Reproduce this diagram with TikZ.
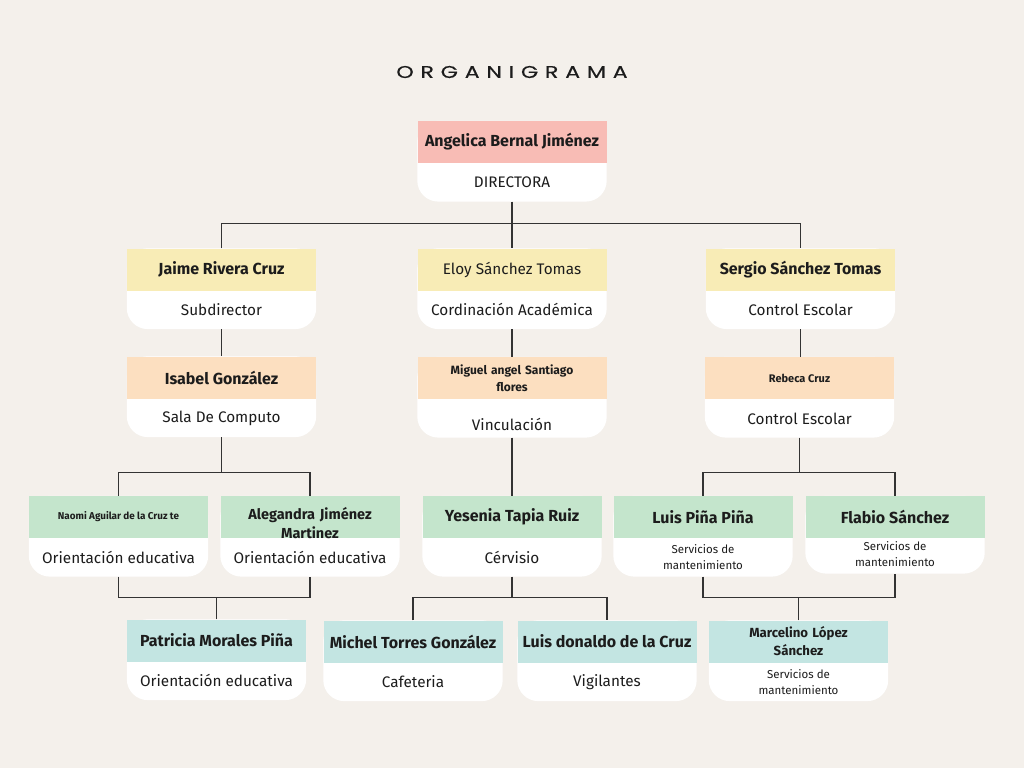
\documentclass[tikz,border=0pt]{standalone}
\usepackage{fontspec}
\setmainfont{Fira Sans}
\newfontfamily\titlefont[LetterSpace=40, FakeStretch=1.3, FakeBold=0.4]{Poppins}
\usetikzlibrary{positioning,backgrounds}
\definecolor{paper}{HTML}{F4F0EB}
\definecolor{ink}{HTML}{1C1C1C}
\definecolor{rosa}{HTML}{F8BCB5}
\definecolor{amarillo}{HTML}{F8ECB6}
\definecolor{durazno}{HTML}{FCDFC0}
\definecolor{verde}{HTML}{C4E5CC}
\definecolor{turquesa}{HTML}{C3E5E2}

\begin{document}
\begin{tikzpicture}[x=1pt, y=-1pt,
node distance = 0pt,
head/.style={rectangle, inner sep=2pt, minimum width=#1, minimum height=42pt, text=ink, align=center, font=\fontsize{16}{19}\selectfont\bfseries},
head/.default=189pt,
role/.style={rectangle, inner sep=2pt, minimum width=#1, minimum height=38pt, text=ink, align=center, font=\fontsize{15.3}{18}\selectfont},
role/.default=189pt,
card/.style={fill=white, rounded corners=21pt},
link/.style={draw=ink!90, line width=1.2pt}]

\useasboundingbox (0,0) rectangle (1024,768);

\node[font=\titlefont\fontsize{17}{22}\selectfont, text=ink] (title) at (512,72) {ORGANIGRAMA};

% nivel 1
\node[head, fill=rosa] (dir) at (512,142) {Angelica Bernal Jiménez};
\node[role, below=of dir] (dir-r) {DIRECTORA};

% nivel 2
\node[head, fill=amarillo] (jai) at (221.5,269.5) {Jaime Rivera Cruz};
\node[role, below=of jai] (jai-r) {Subdirector};
\node[head, fill=amarillo, font=\fontsize{15.3}{18}\selectfont] (elo) at (512,269.5) {Eloy Sánchez Tomas};
\node[role, below=of elo] (elo-r) {Cordinación Académica};
\node[head, fill=amarillo] (ser) at (800.5,269.5) {Sergio Sánchez Tomas};
\node[role, below=of ser] (ser-r) {Control Escolar};

% nivel 3
\node[head, fill=durazno] (isa) at (221.5,377.5) {Isabel González};
\node[role, below=of isa] (isa-r) {Sala De Computo};
\node[head, fill=durazno, text width=180pt, font=\fontsize{12}{17}\selectfont\bfseries] (mig) at (512,378) {Miguel angel Santiago\\flores};
\node[role, below=of mig, yshift=-12pt, minimum height=26pt] (mig-r) {Vinculación};
\node[head, fill=durazno, font=\fontsize{11}{13}\selectfont\bfseries] (reb) at (799.5,378) {Rebeca Cruz};
\node[role, below=of reb] (reb-r) {Control Escolar};

% nivel 4
\node[head=179pt, fill=verde, font=\fontsize{9.9}{12}\selectfont\bfseries] (nao) at (118.5,517) {Naomi Aguilar de la Cruz te};
\node[role=179pt, below=of nao] (nao-r) {Orientación educativa};
\node[head=179pt, fill=verde, text width=175pt, text height=20pt, text depth=15pt, font=\fontsize{14.5}{19}\selectfont\bfseries] (ale) at (310,517) {Alegandra Jiménez\\Martinez};
\node[role=179pt, below=of ale] (ale-r) {Orientación educativa};
\node[head=179pt, fill=verde] (yes) at (512,517) {Yesenia Tapia Ruiz};
\node[role=179pt, below=of yes] (yes-r) {Cérvisio};
\node[head=179pt, fill=verde] (lpi) at (703,517) {Luis Piña Piña};
\node[role=179pt, below=of lpi, font=\fontsize{11.5}{16}\selectfont] (lpi-r) {Servicios de\\mantenimiento};
\node[head=179pt, fill=verde] (fla) at (895,517) {Flabio Sánchez};
\node[role=179pt, below=of fla, yshift=3pt, font=\fontsize{11.5}{16}\selectfont] (fla-r) {Servicios de\\mantenimiento};

% nivel 5
\node[head=179pt, fill=turquesa] (pat) at (216.5,640.5) {Patricia Morales Piña};
\node[role=179pt, below=of pat] (pat-r) {Orientación educativa};
\node[head=179pt, fill=turquesa] (mic) at (413,641.5) {Michel Torres González};
\node[role=179pt, below=of mic] (mic-r) {Cafeteria};
\node[head=179pt, fill=turquesa] (lui) at (607,641.5) {Luis donaldo de la Cruz};
\node[role=179pt, below=of lui] (lui-r) {Vigilantes};
\node[head=179pt, fill=turquesa, text width=175pt, font=\fontsize{13.2}{18}\selectfont\bfseries] (mar) at (798.5,641.5) {Marcelino López\\Sánchez};
\node[role=179pt, below=of mar, font=\fontsize{11.5}{16}\selectfont] (mar-r) {Servicios de\\mantenimiento};

\begin{scope}[on background layer]
\fill[paper] (0,0) rectangle (1024,768);
\foreach \n in {dir,jai,elo,ser,isa,mig,reb,nao,ale,yes,lpi,fla,pat,mic,lui,mar}
  \fill[card] (\n.north west) rectangle (\n-r.south east);
\end{scope}

% conectores
\draw[link] (dir-r.south) -- (elo.north);
\draw[link] (jai.north) -- ++(0,-25) -| (ser.north);
\draw[link] (jai-r.south) -- (isa.north);
\draw[link] (elo-r.south) -- (mig.north);
\draw[link] (ser-r.south) -- (ser-r.south |- reb.north);
\draw[link] (nao.north) -- ++(0,-23) coordinate (isa-bus) -| (ale.north);
\draw[link] (isa-r.south) -- (isa-r.south |- isa-bus);
\draw[link] (mig-r.south) -- (yes.north);
\draw[link] (lpi.north) -- ++(0,-23) coordinate (reb-bus) -| (fla.north);
\draw[link] (reb-r.south) -- (reb-r.south |- reb-bus);
\draw[link] (nao-r.south) -- ++(0,21) coordinate (pat-bus) -| (ale-r.south);
\draw[link] (pat.north) -- (pat.north |- pat-bus);
\draw[link] (mic.north) -- ++(0,-23) coordinate (yes-bus) -| (lui.north);
\draw[link] (yes-r.south) -- (yes-r.south |- yes-bus);
\draw[link] (lpi-r.south) -- ++(0,21) coordinate (mar-bus) -| (fla-r.south);
\draw[link] (mar.north) -- (mar.north |- mar-bus);
\end{tikzpicture}
\end{document}
